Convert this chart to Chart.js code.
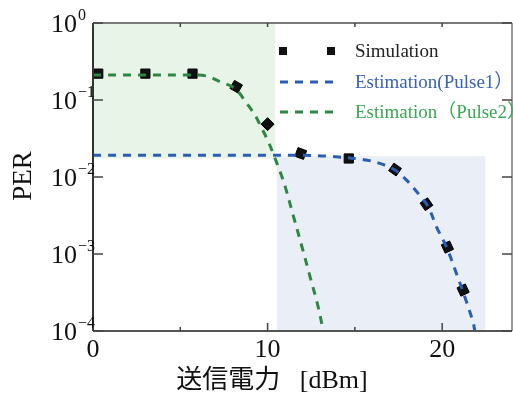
<!DOCTYPE html>
<html>
<head>
<meta charset="utf-8">
<script src="https://cdn.jsdelivr.net/npm/chart.js@4.4.0/dist/chart.umd.min.js"></script>
<style>
html, body { margin: 0; padding: 0; background: #fff; }
#wrap { width: 513px; height: 396px; }
</style>
</head>
<body>
<div id="wrap"><canvas id="per-chart"></canvas></div>
<script>
// Simulation points
const simX = [0.3, 3.0, 5.7, 8.2, 10.0, 11.9, 14.65, 17.3, 19.1, 20.3, 21.2];
const simY = [0.22, 0.22, 0.22, 0.149, 0.0486, 0.0202, 0.0174, 0.0125, 0.00443, 0.00123, 0.00034];

// Estimation (Pulse1) curve
const pulse1X = [0, 12, 13.5, 15.5, 16.44, 17.3, 17.96, 18.63, 19.2, 19.68, 20.25, 20.82, 21.3, 21.77, 21.87];
const pulse1Y = [0.0192, 0.0191, 0.0186, 0.0168, 0.0150, 0.0123, 0.0091, 0.0061, 0.0041, 0.00224, 0.00123, 0.000556, 0.000276, 0.00013, 0.0001];

// Estimation (Pulse2) curve
const pulse2X = [0, 5.5, 6.5, 7.3, 8.14, 8.81, 9.28, 9.67, 10.05, 10.39, 10.72, 11.0, 11.48, 11.96, 12.43, 12.9, 13.19];
const pulse2Y = [0.211, 0.211, 0.205, 0.172, 0.141, 0.090, 0.0636, 0.0427, 0.0286, 0.0183, 0.01165, 0.0076, 0.0031, 0.00126, 0.00051, 0.000205, 0.0001];

// shaded regions (green = Pulse2 range, blue = Pulse1 range)
const regionX1 = [0, 10.53];
const regionX2 = [10.43, 22.48];
const regionYLow = [0.0174, 0.0001];
const regionYHigh = [1, 0.0186];
const regionColors = ['#e8f4e8', '#e9eef7'];

// ticks
const xTickVals = [0, 10, 20];
const xTickLabels = ['0', '10', '20'];
const xMinorTicks = [5, 15];
const yTickVals = [1, 0.1, 0.01, 0.001, 0.0001];
const yTickExp = ['0', '\u22121', '\u22122', '\u22123', '\u22124'];

const legendLabels = ['Simulation', 'Estimation(Pulse1\uFF09', 'Estimation\uFF08Pulse2\uFF09'];

const blue = '#2b5db3';
const green = '#2f8644';
const serif = '"Liberation Serif", "Times New Roman", Times, "Noto Sans CJK JP", serif';

const toPoints = (xs, ys) => xs.map((x, i) => ({ x: x, y: ys[i] }));

const decorations = {
    id: 'decorations',
    beforeDatasetsDraw(chart) {
        const { ctx, scales: { x, y } } = chart;
        ctx.save();
        for (let i = 0; i < regionX1.length; i++) {
            const left = x.getPixelForValue(regionX1[i]);
            const right = x.getPixelForValue(regionX2[i]);
            const top = y.getPixelForValue(regionYHigh[i]);
            const bottom = y.getPixelForValue(regionYLow[i]);
            ctx.fillStyle = regionColors[i];
            ctx.fillRect(left, top, right - left, bottom - top);
        }
        ctx.restore();
    },
    afterDatasetsDraw(chart) {
        const { ctx, chartArea: a, scales: { x, y } } = chart;
        ctx.save();

        // frame
        const side = (color, x1, y1, x2, y2) => {
            ctx.strokeStyle = color;
            ctx.lineWidth = 2;
            ctx.beginPath();
            ctx.moveTo(x1, y1);
            ctx.lineTo(x2, y2);
            ctx.stroke();
        };
        side('#7a7a7a', a.left, a.top, a.right, a.top);
        side('#9a9a9a', a.right, a.top, a.right, a.bottom);
        side('#555', a.left, a.bottom, a.right, a.bottom);
        side('#333', a.left, a.top, a.left, a.bottom);

        // inward ticks
        ctx.lineWidth = 1.5;
        ctx.strokeStyle = '#444';
        xTickVals.concat(xMinorTicks).forEach(v => {
            const px = x.getPixelForValue(v);
            const len = xTickVals.includes(v) ? 8 : 4;
            ctx.beginPath();
            ctx.moveTo(px, a.bottom);
            ctx.lineTo(px, a.bottom - len);
            ctx.moveTo(px, a.top);
            ctx.lineTo(px, a.top + 4);
            ctx.stroke();
        });
        yTickVals.forEach(v => {
            const py = y.getPixelForValue(v);
            ctx.beginPath();
            ctx.moveTo(a.left, py);
            ctx.lineTo(a.left + 10, py);
            ctx.moveTo(a.right, py);
            ctx.lineTo(a.right - 10, py);
            ctx.stroke();
        });

        // tick labels
        ctx.fillStyle = '#111';
        ctx.textBaseline = 'alphabetic';
        xTickVals.forEach((v, i) => {
            ctx.font = '26px ' + serif;
            ctx.textAlign = 'center';
            ctx.fillText(xTickLabels[i], x.getPixelForValue(v), 357);
        });
        yTickVals.forEach((v, i) => {
            const py = y.getPixelForValue(v);
            ctx.font = '26px ' + serif;
            ctx.textAlign = 'right';
            ctx.fillText('10', 77, py + 9);
            ctx.font = '16px ' + serif;
            ctx.textAlign = 'left';
            ctx.fillText(yTickExp[i], 78, py - 3);
        });

        // axis titles
        ctx.font = '27px ' + serif;
        ctx.textAlign = 'center';
        ctx.textBaseline = 'middle';
        ctx.save();
        ctx.translate(24, 176);
        ctx.rotate(-Math.PI / 2);
        ctx.fillText('PER', 0, 0);
        ctx.restore();
        ctx.font = '26px ' + serif;
        ctx.fillText('送信電力   [dBm]', 272, 381);

        // legend
        ctx.fillStyle = '#111';
        [283, 331].forEach(px => ctx.fillRect(px - 4, 47, 8, 8));
        ctx.lineWidth = 3;
        ctx.setLineDash([8, 7]);
        [[blue, 82], [green, 112]].forEach(([c, py]) => {
            ctx.strokeStyle = c;
            ctx.beginPath();
            ctx.moveTo(280, py);
            ctx.lineTo(336, py);
            ctx.stroke();
        });
        ctx.setLineDash([]);
        ctx.font = '19px ' + serif;
        ctx.textAlign = 'left';
        ctx.textBaseline = 'middle';
        const legendColors = ['#222', '#3a62b6', '#3aa755'];
        [52, 83, 113].forEach((py, i) => {
            ctx.fillStyle = legendColors[i];
            ctx.fillText(legendLabels[i], 355, py);
        });
        ctx.restore();
    }
};

const config = {
    type: 'scatter',
    data: {
        datasets: [
            {
                type: 'line',
                label: legendLabels[1],
                data: toPoints(pulse1X, pulse1Y),
                borderColor: blue,
                borderWidth: 3,
                borderDash: [8, 7],
                pointRadius: 0,
                fill: false,
                tension: 0.35
            },
            {
                type: 'line',
                label: legendLabels[2],
                data: toPoints(pulse2X, pulse2Y),
                borderColor: green,
                borderWidth: 3,
                borderDash: [8, 7],
                pointRadius: 0,
                fill: false,
                tension: 0.35
            },
            {
                label: legendLabels[0],
                data: toPoints(simX, simY),
                pointStyle: 'rect',
                pointRadius: 6.5,
                pointRotation: [0, 0, 0, 30, 45, 20, 0, 35, 55, 65, 65],
                backgroundColor: '#111',
                borderColor: '#000',
                borderWidth: 1
            }
        ]
    },
    options: {
        responsive: true,
        maintainAspectRatio: false,
        animation: false,
        layout: { autoPadding: false, padding: { top: 23, right: 1, left: 0, bottom: 0 } },
        scales: {
            x: {
                type: 'linear',
                min: 0,
                max: 24,
                grid: { display: false },
                border: { display: false },
                ticks: { display: false },
                afterFit: s => { s.height = 65; }
            },
            y: {
                type: 'logarithmic',
                min: 0.0001,
                max: 1,
                grid: { display: false },
                border: { display: false },
                ticks: { display: false },
                afterFit: s => { s.width = 93; }
            }
        },
        plugins: {
            legend: { display: false },
            tooltip: { enabled: false }
        }
    },
    plugins: [decorations]
};

new Chart(document.getElementById('per-chart').getContext('2d'), config);
</script>
</body>
</html>
